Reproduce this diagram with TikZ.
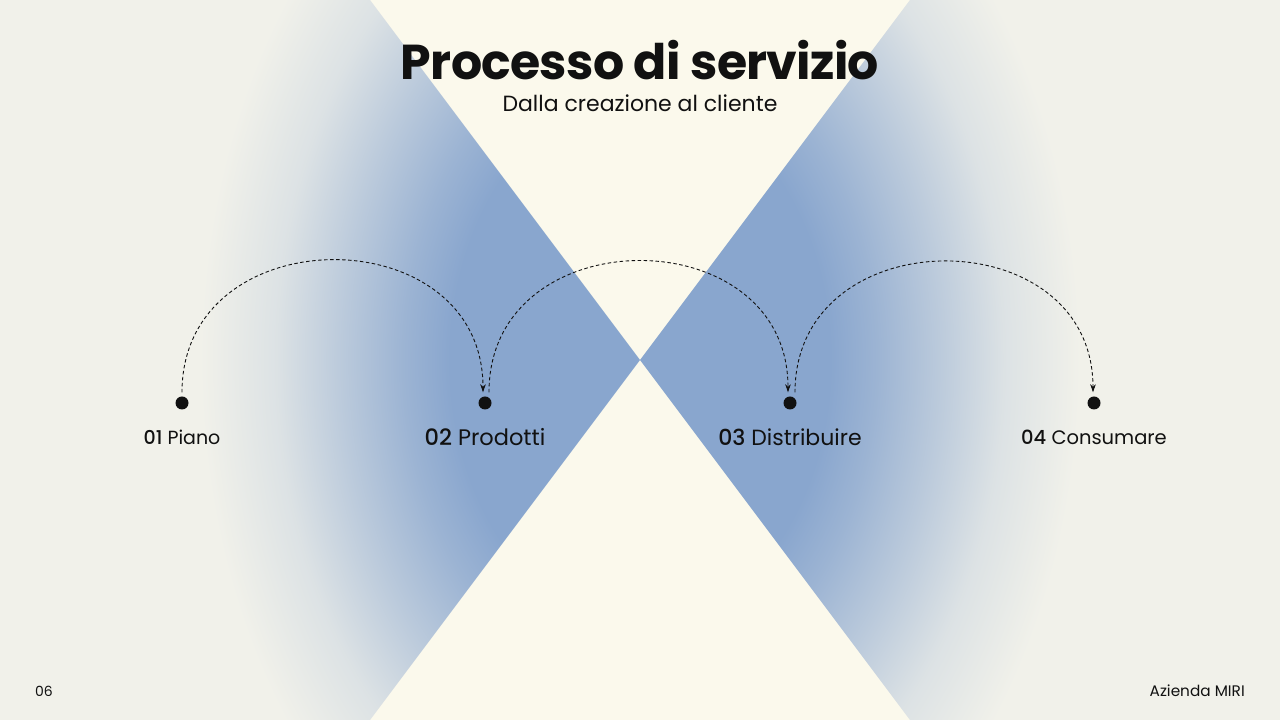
\documentclass[tikz,border=0pt]{standalone}
\usepackage{fontspec}
\setmainfont{Poppins}
\newfontfamily\popmed{Poppins Medium}
\newfontfamily\popbold{Poppins Bold}[LetterSpace=-1.5]
\usetikzlibrary{positioning,arrows.meta}
\definecolor{paper}{RGB}{241,241,234}
\definecolor{cream}{RGB}{251,249,236}
\definecolor{haze}{RGB}{137,166,206}
\definecolor{ink}{RGB}{17,17,17}
\colorlet{hazeA}{haze!82!paper}
\colorlet{hazeB}{haze!52!paper}
\colorlet{hazeC}{haze!20!paper}
\pgfdeclareradialshading{glow}{\pgfpoint{0bp}{0bp}}{color(0bp)=(haze); color(10.8bp)=(haze); color(13.4bp)=(hazeA); color(17bp)=(hazeB); color(20.7bp)=(hazeC); color(25bp)=(paper); color(50bp)=(paper)}
\begin{document}
\begin{tikzpicture}[x=1pt,y=1pt,
    dot/.style={circle, fill=ink, inner sep=0pt, minimum size=13pt},
    lbl/.style={text=ink, inner sep=1pt},
    flow/.style={draw=ink, line width=0.9pt, dash pattern=on 3.5pt off 2.5pt, -{Stealth[length=8pt,width=5.5pt]}}]
  \useasboundingbox (0,0) rectangle (1280,720);
  \fill[paper] (0,0) rectangle (1280,720);
  \fill[cream] (370,720) -- (910,720) -- (640,360) -- cycle;
  \fill[cream] (370,0) -- (910,0) -- (640,360) -- cycle;

  % blue glow, left and right
  \begin{scope}
    \clip (0,0) -- (370,0) -- (640,360) -- (370,720) -- (0,720) -- cycle;
    \shade[shading=glow] (640,360) ellipse [x radius=440, y radius=610];
  \end{scope}
  \begin{scope}
    \clip (1280,0) -- (910,0) -- (640,360) -- (910,720) -- (1280,720) -- cycle;
    \shade[shading=glow] (640,360) ellipse [x radius=440, y radius=610];
  \end{scope}

  \node[text=ink, inner sep=0pt] (title) at (640,660) {\popbold\fontsize{49}{50}\selectfont Processo di servizio};
  \node[text=ink, inner sep=0pt] (sub) at (640,617) {\fontsize{22}{24}\selectfont Dalla creazione al cliente};

  \foreach \i/\x in {1/182, 2/485, 3/790, 4/1094}
  {
    \path (\x,317) node[dot] (p\i) {};
  }

  \foreach \i/\s/\t in {1/19/Piano, 2/22.5/Prodotti, 3/22/Distribuire, 4/19.5/Consumare}
  {
    \node[lbl, below=34pt of p\i.center, anchor=center] (l\i) {\fontsize{\s}{\s}\selectfont{\popmed 0\i} \t};
  }

  \draw[flow] ([yshift=4pt]p1.north) to[out=90, in=90, looseness=1.5] ([xshift=-2pt, yshift=4pt]p2.north);
  \draw[flow] ([xshift=4pt, yshift=4pt]p2.north) to[out=90, in=90, looseness=1.5] ([xshift=-2pt, yshift=4pt]p3.north);
  \draw[flow] ([xshift=5pt, yshift=4pt]p3.north) to[out=90, in=90, looseness=1.5] ([xshift=-1pt, yshift=4pt]p4.north);

  \node[text=ink, anchor=west, inner sep=0pt] (page) at (35,29) {\fontsize{14}{14}\selectfont 06};
  \node[text=ink, anchor=east, inner sep=0pt] (firm) at (1245,29) {\fontsize{15.3}{15}\selectfont Azienda MIRI};
\end{tikzpicture}
\end{document}
